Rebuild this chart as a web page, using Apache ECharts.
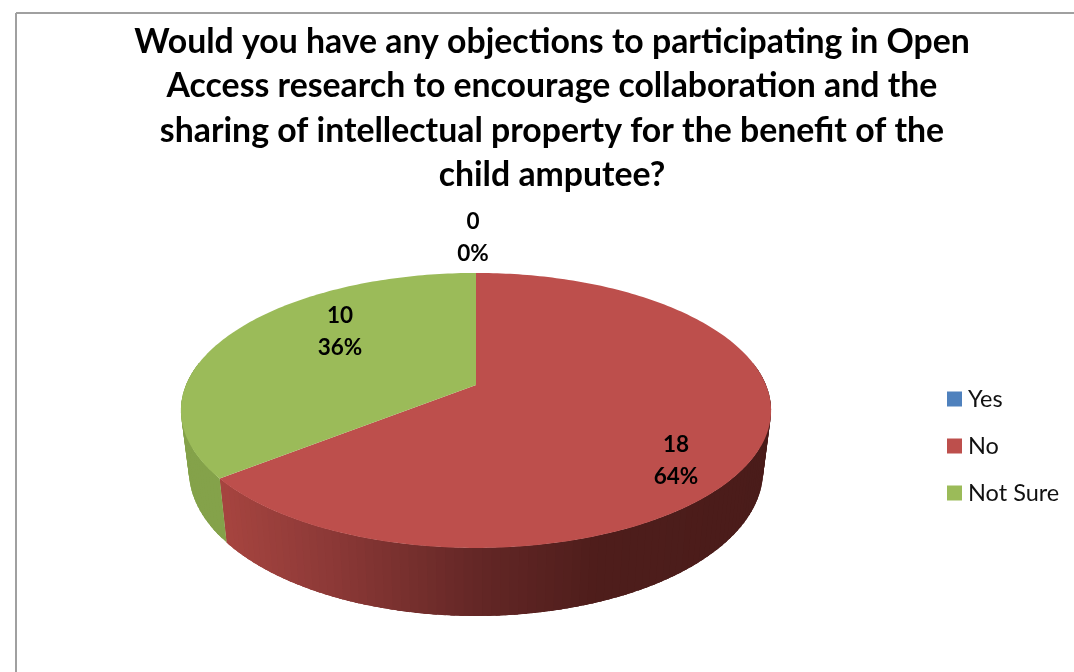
<!DOCTYPE html>
<html>
<head>
<meta charset="utf-8">
<style>html,body{margin:0;padding:0;background:#fff}#c{width:1074px;height:672px}</style>
<script src="https://cdn.jsdelivr.net/npm/echarts@6/dist/echarts.min.js"></script>
</head>
<body>
<div id="c"></div>
<script>
var categories = ['Yes', 'No', 'Not Sure'];
var values = [0, 18, 10];
var colors = ['#4F81BD', '#BD4F4C', '#9BBB59'];
var titleLines = [
  'Would you have any objections to participating in Open',
  'Access research to encourage collaboration and the',
  'sharing of intellectual property for the benefit of the',
  'child amputee?'
];
var FONT = 'Lato, "Open Sans", sans-serif';

// pie projection: a perspective view of a circle
var view = { cx: 476, cy: 385, a: 290, b: 132.8, p: 0.185, baseX: 0.973, baseY: 1.058, baseShift: 58.6 };
var labelAnchors = [[473, 238], [676, 461], [340, 332]];
var wallStops = [
  [[226, '#a5443f'], [330, '#8c3937'], [476, '#642726'], [600, '#4e1d1b'], [771, '#4a1c1a']],
  [[181, '#84a24a'], [226, '#84a24a']]
];

var total = values.reduce(function (s, v) { return s + v; }, 0);
var starts = [];
values.reduce(function (s, v, i) { starts[i] = s; return s + v; }, 0);

function rim(deg) {
  var t = deg * Math.PI / 180, u = Math.sin(t), v = -Math.cos(t), w = 1 - view.p * v;
  return [view.a * u / w, view.b * v / w];
}
function top3(deg) { var r = rim(deg); return [view.cx + r[0], view.cy + r[1]]; }
function base(deg) {
  var r = rim(deg);
  return [view.cx + r[0] * view.baseX, view.cy + r[1] * view.baseY + view.baseShift];
}
function hex(c) { return [1, 3, 5].map(function (i) { return parseInt(c.substr(i, 2), 16); }); }
function wallColor(stops, x) {
  if (x <= stops[0][0]) return stops[0][1];
  for (var i = 1; i < stops.length; i++) {
    if (x <= stops[i][0]) {
      var f = (x - stops[i - 1][0]) / (stops[i][0] - stops[i - 1][0]);
      var a = hex(stops[i - 1][1]), b = hex(stops[i][1]);
      return 'rgb(' + a.map(function (c, k) { return Math.round(c + (b[k] - c) * f); }).join(',') + ')';
    }
  }
  return stops[stops.length - 1][1];
}

function makeRender(idx) {
  return function (params, api) {
    var start = api.value(0), val = api.value(1), children = [];
    var d0 = start / total * 360, d1 = (start + val) / total * 360, d;
    if (val > 0) {
      var stops = wallStops[idx - 1];
      var from = Math.max(d0, 80), to = Math.min(d1, 280), step = 1.5;
      for (d = from; d < to; d += step) {
        var mid = Math.min(d + step, to), e = Math.min(d + step * 2.5, to);
        var col = wallColor(stops, (top3(d)[0] + top3(mid)[0]) / 2);
        children.push({
          type: 'polygon', z2: 1, silent: true,
          shape: { points: [top3(d), top3(e), base(e), base(d)] },
          style: { fill: col }
        });
      }
      var pts = [[view.cx, view.cy]];
      for (d = d0; d < d1; d += 1) pts.push(top3(d));
      pts.push(top3(d1));
      children.push({
        type: 'polygon', z2: 5, shape: { points: pts },
        style: { fill: colors[idx] }
      });
    }
    var pct = Math.round(val / total * 100) + '%';
    children.push({
      type: 'text', z2: 10,
      style: {
        text: val + '\n' + pct, x: labelAnchors[idx][0], y: labelAnchors[idx][1],
        align: 'center', verticalAlign: 'middle',
        font: 'bold 22.5px ' + FONT, lineHeight: 32, fill: '#000'
      }
    });
    return { type: 'group', children: children };
  };
}

var chart = echarts.init(document.getElementById('c'), null, { renderer: 'canvas' });
chart.setOption({
  animation: false,
  backgroundColor: '#fff',
  title: {
    text: titleLines.join('\n'), left: 547, top: 15, textAlign: 'center',
    textStyle: { fontFamily: FONT, fontWeight: 'bold', fontSize: 33.8, lineHeight: 44.3, color: '#000' }
  },
  legend: {
    orient: 'vertical', left: 942, top: 382, itemWidth: 15, itemHeight: 15, itemGap: 23,
    icon: 'rect', data: categories,
    textStyle: { fontFamily: FONT, fontSize: 23.5, color: '#111', padding: [0, 0, 0, 1] }
  },
  graphic: [
    { type: 'line', shape: { x1: 16, y1: 13, x2: 1074, y2: 13 }, style: { stroke: '#a0a0a0', lineWidth: 2 } },
    { type: 'line', shape: { x1: 16, y1: 13, x2: 16, y2: 672 }, style: { stroke: '#a0a0a0', lineWidth: 2 } }
  ],
  series: categories.map(function (name, i) {
    return {
      type: 'custom', name: name, coordinateSystem: 'none',
      itemStyle: { color: colors[i] },
      renderItem: makeRender(i),
      data: [[starts[i], values[i]]]
    };
  })
});
</script>
</body>
</html>
